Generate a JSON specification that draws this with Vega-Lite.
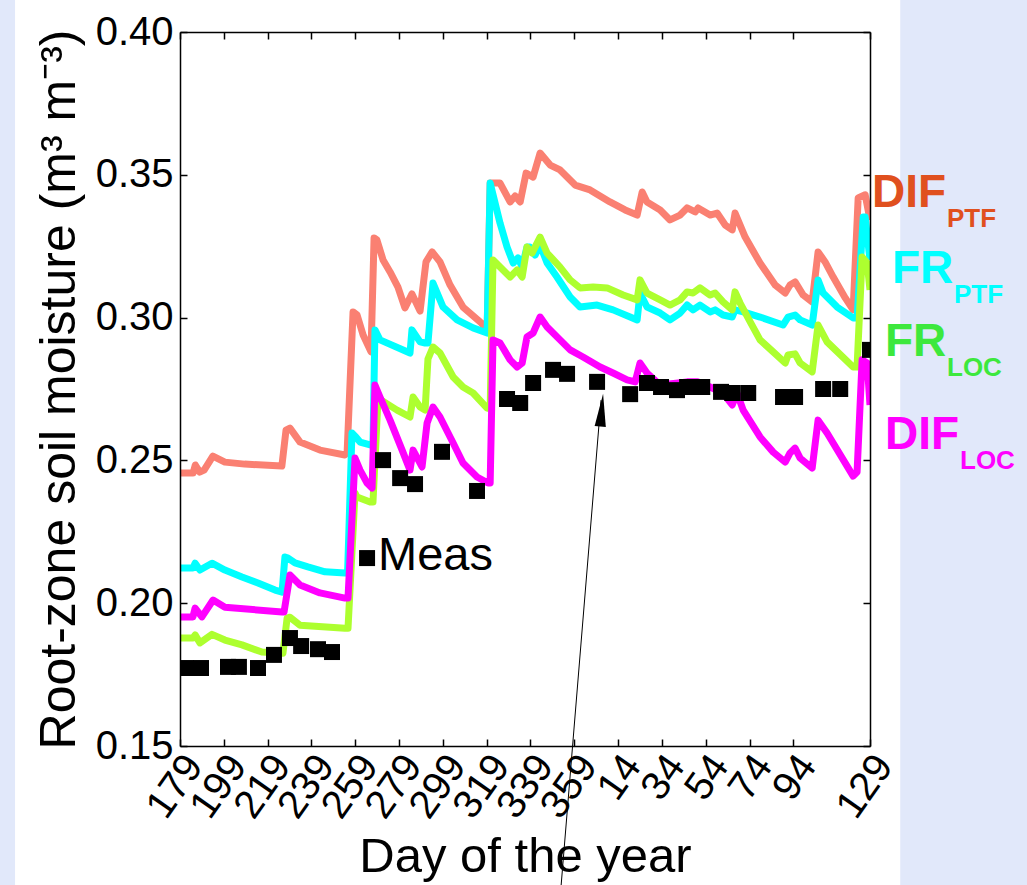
{
  "$schema": "https://vega.github.io/schema/vega-lite/v6.json",
  "width": 690,
  "height": 714,
  "autosize": {"type": "none"},
  "padding": {"left": 180, "top": 32, "right": 157, "bottom": 139},
  "background": "#E1E8FA",
  "config": {
    "view": {"stroke": null},
    "axis": {"grid": false, "domainColor": "black", "tickColor": "black", "labelColor": "black", "titleColor": "black", "labelFont": "Liberation Sans", "titleFont": "Liberation Sans", "titleFontWeight": "normal", "domainWidth": 1.5, "tickWidth": 1.5, "labelFlush": false, "labelOverlap": false}
  },
  "datasets": {
    "dp": [{"t":0,"v":0.2456},{"t":6,"v":0.2456},{"t":7,"v":0.2484},{"t":9,"v":0.2459},{"t":11,"v":0.2466},{"t":15,"v":0.2515},{"t":20.5,"v":0.2494},{"t":29.5,"v":0.2487},{"t":46.5,"v":0.248},{"t":48.4,"v":0.2606},{"t":50.2,"v":0.2613},{"t":54.8,"v":0.2564},{"t":63.9,"v":0.2536},{"t":75.3,"v":0.2519},{"t":76.3,"v":0.2529},{"t":79,"v":0.302},{"t":80.8,"v":0.301},{"t":83.6,"v":0.2939},{"t":87.2,"v":0.288},{"t":88.6,"v":0.3279},{"t":89.9,"v":0.3272},{"t":92.7,"v":0.3202},{"t":95.9,"v":0.316},{"t":99.5,"v":0.3107},{"t":102.7,"v":0.3034},{"t":105.9,"v":0.3083},{"t":109.6,"v":0.3023},{"t":112.3,"v":0.3195},{"t":115.1,"v":0.323},{"t":118.7,"v":0.3195},{"t":123.3,"v":0.3114},{"t":129.2,"v":0.3037},{"t":137,"v":0.2985},{"t":140.2,"v":0.296},{"t":141.6,"v":0.3471},{"t":146.1,"v":0.3471},{"t":150.7,"v":0.3405},{"t":153,"v":0.3426},{"t":155.3,"v":0.3405},{"t":158,"v":0.3506},{"t":161.2,"v":0.3492},{"t":164.4,"v":0.3576},{"t":169,"v":0.3534},{"t":173.5,"v":0.3517},{"t":180.4,"v":0.3464},{"t":187.2,"v":0.3447},{"t":196.3,"v":0.3405},{"t":203.2,"v":0.3377},{"t":208.7,"v":0.3359},{"t":211,"v":0.344},{"t":213.2,"v":0.3405},{"t":219.2,"v":0.3377},{"t":223.7,"v":0.3342},{"t":228.3,"v":0.3359},{"t":231.5,"v":0.3384},{"t":235.2,"v":0.337},{"t":236.5,"v":0.3384},{"t":242,"v":0.3359},{"t":245.2,"v":0.3366},{"t":248.9,"v":0.3324},{"t":252.1,"v":0.3307},{"t":253.4,"v":0.3366},{"t":255.7,"v":0.3324},{"t":258,"v":0.3282},{"t":264.8,"v":0.3191},{"t":271.7,"v":0.3114},{"t":276.3,"v":0.3086},{"t":278.5,"v":0.3114},{"t":280.8,"v":0.3125},{"t":284.5,"v":0.3079},{"t":288.6,"v":0.3055},{"t":291.3,"v":0.323},{"t":294.5,"v":0.3195},{"t":298.2,"v":0.3142},{"t":303.7,"v":0.3069},{"t":307.3,"v":0.3027},{"t":309.6,"v":0.3419},{"t":312.8,"v":0.343},{"t":315,"v":0.3342}],
    "fp": [{"t":0,"v":0.2123},{"t":5.9,"v":0.2123},{"t":6.9,"v":0.214},{"t":9.1,"v":0.2116},{"t":14.6,"v":0.214},{"t":20.5,"v":0.2116},{"t":28.3,"v":0.2092},{"t":35.6,"v":0.2071},{"t":43.4,"v":0.2046},{"t":46.6,"v":0.2039},{"t":47.9,"v":0.2162},{"t":49.3,"v":0.2158},{"t":52.5,"v":0.2141},{"t":58.4,"v":0.2127},{"t":66.2,"v":0.211},{"t":75.3,"v":0.2106},{"t":76.5,"v":0.2106},{"t":78.5,"v":0.2596},{"t":79.9,"v":0.2585},{"t":82.2,"v":0.2564},{"t":86.8,"v":0.2554},{"t":88.1,"v":0.2554},{"t":89,"v":0.2957},{"t":91.3,"v":0.2922},{"t":105,"v":0.2876},{"t":105.9,"v":0.2957},{"t":109.6,"v":0.2915},{"t":111.9,"v":0.2911},{"t":113.2,"v":0.2911},{"t":115.5,"v":0.3121},{"t":120.1,"v":0.3037},{"t":126.5,"v":0.2992},{"t":133.8,"v":0.2964},{"t":140.2,"v":0.2946},{"t":141.6,"v":0.3471},{"t":146.1,"v":0.3331},{"t":149.3,"v":0.3247},{"t":152.1,"v":0.3191},{"t":154.3,"v":0.3209},{"t":156.2,"v":0.3177},{"t":158.4,"v":0.3247},{"t":159.8,"v":0.3247},{"t":162.1,"v":0.3219},{"t":164.4,"v":0.3254},{"t":167.6,"v":0.3191},{"t":172.1,"v":0.3142},{"t":178.1,"v":0.3072},{"t":182.6,"v":0.3037},{"t":190.4,"v":0.3044},{"t":197.7,"v":0.3027},{"t":205.5,"v":0.3002},{"t":208.7,"v":0.2992},{"t":210,"v":0.3086},{"t":213.2,"v":0.3037},{"t":219.2,"v":0.3016},{"t":223.7,"v":0.2992},{"t":228.3,"v":0.3016},{"t":231.5,"v":0.3044},{"t":234.2,"v":0.3027},{"t":237.4,"v":0.3044},{"t":242,"v":0.302},{"t":244.3,"v":0.3027},{"t":247.9,"v":0.3009},{"t":252.1,"v":0.3002},{"t":253.4,"v":0.3027},{"t":257.1,"v":0.302},{"t":264.8,"v":0.3002},{"t":275.3,"v":0.2974},{"t":277.6,"v":0.3002},{"t":280.8,"v":0.3009},{"t":283.1,"v":0.2992},{"t":288.6,"v":0.2974},{"t":291.3,"v":0.3132},{"t":293.6,"v":0.3086},{"t":300,"v":0.3037},{"t":307.3,"v":0.2999},{"t":309.1,"v":0.2999},{"t":311.9,"v":0.3352},{"t":312.8,"v":0.3352},{"t":315,"v":0.3201}],
    "fl": [{"t":0,"v":0.1878},{"t":5.9,"v":0.1878},{"t":6.9,"v":0.1889},{"t":9.1,"v":0.1861},{"t":14.6,"v":0.1891},{"t":20.5,"v":0.1871},{"t":28.3,"v":0.1854},{"t":37.4,"v":0.1829},{"t":47,"v":0.1825},{"t":48.9,"v":0.1948},{"t":50.2,"v":0.1951},{"t":54.8,"v":0.1923},{"t":75.3,"v":0.1912},{"t":76.7,"v":0.1912},{"t":79.9,"v":0.2386},{"t":80.8,"v":0.2372},{"t":86.8,"v":0.2354},{"t":88.1,"v":0.2354},{"t":90.4,"v":0.2718},{"t":99.1,"v":0.2676},{"t":105,"v":0.2652},{"t":106.4,"v":0.2722},{"t":109.6,"v":0.2687},{"t":111.9,"v":0.2676},{"t":113.2,"v":0.2855},{"t":115.5,"v":0.2897},{"t":118.7,"v":0.2876},{"t":124.7,"v":0.2792},{"t":129.2,"v":0.2757},{"t":133.8,"v":0.2736},{"t":140.2,"v":0.2683},{"t":141.6,"v":0.2683},{"t":142.9,"v":0.3202},{"t":146.1,"v":0.3177},{"t":150.7,"v":0.3142},{"t":153.9,"v":0.3167},{"t":156.2,"v":0.3142},{"t":158.4,"v":0.3247},{"t":160.7,"v":0.3226},{"t":164.4,"v":0.3282},{"t":167.6,"v":0.3226},{"t":173.5,"v":0.3177},{"t":178.1,"v":0.3132},{"t":182.6,"v":0.3104},{"t":188.6,"v":0.3107},{"t":195,"v":0.3104},{"t":202.3,"v":0.3079},{"t":208.7,"v":0.3062},{"t":210,"v":0.3132},{"t":213.2,"v":0.3086},{"t":219.2,"v":0.3062},{"t":223.7,"v":0.3044},{"t":228.3,"v":0.3062},{"t":231.5,"v":0.309},{"t":234.2,"v":0.3086},{"t":237.4,"v":0.3104},{"t":242,"v":0.3079},{"t":244.3,"v":0.3086},{"t":247.9,"v":0.3055},{"t":252.1,"v":0.3027},{"t":253.4,"v":0.309},{"t":255.7,"v":0.3051},{"t":260.3,"v":0.2985},{"t":264.8,"v":0.2922},{"t":270.8,"v":0.288},{"t":276.3,"v":0.2841},{"t":277.6,"v":0.2869},{"t":280.8,"v":0.2873},{"t":283.1,"v":0.2841},{"t":288.6,"v":0.281},{"t":291.3,"v":0.2974},{"t":295.4,"v":0.2915},{"t":307.3,"v":0.2827},{"t":309.1,"v":0.2827},{"t":311.4,"v":0.3212},{"t":313.7,"v":0.3191},{"t":315,"v":0.3097}],
    "dl": [{"t":0,"v":0.1952},{"t":5.9,"v":0.1952},{"t":6.9,"v":0.1983},{"t":10,"v":0.1952},{"t":15.1,"v":0.2011},{"t":20.5,"v":0.1986},{"t":46.6,"v":0.1969},{"t":47.5,"v":0.1969},{"t":50.2,"v":0.2099},{"t":54.8,"v":0.2064},{"t":63.9,"v":0.2036},{"t":75.3,"v":0.2018},{"t":76.7,"v":0.2018},{"t":79.9,"v":0.2508},{"t":82.2,"v":0.2466},{"t":85.4,"v":0.2421},{"t":87.7,"v":0.2403},{"t":89,"v":0.2764},{"t":91.3,"v":0.2722},{"t":95.9,"v":0.2641},{"t":101.4,"v":0.2536},{"t":105,"v":0.2466},{"t":106.4,"v":0.2536},{"t":110.5,"v":0.2477},{"t":112.8,"v":0.2631},{"t":115.5,"v":0.2687},{"t":118.7,"v":0.2652},{"t":124.7,"v":0.2561},{"t":129.2,"v":0.2491},{"t":135.6,"v":0.2442},{"t":140.6,"v":0.2421},{"t":141.6,"v":0.2421},{"t":142.9,"v":0.2922},{"t":146.1,"v":0.2911},{"t":150.7,"v":0.2852},{"t":153.9,"v":0.2827},{"t":156.2,"v":0.2841},{"t":158.4,"v":0.2932},{"t":161.2,"v":0.2946},{"t":164.4,"v":0.3002},{"t":167.6,"v":0.2967},{"t":173.5,"v":0.2922},{"t":178.1,"v":0.2887},{"t":184,"v":0.2862},{"t":191.8,"v":0.2827},{"t":197.7,"v":0.2806},{"t":204.1,"v":0.2782},{"t":207.8,"v":0.2775},{"t":210,"v":0.2841},{"t":213.2,"v":0.2806},{"t":219.2,"v":0.2764},{"t":231.5,"v":0.2775},{"t":236.5,"v":0.2775},{"t":242,"v":0.2757},{"t":247.9,"v":0.2736},{"t":252.1,"v":0.2694},{"t":254.3,"v":0.2736},{"t":257.1,"v":0.2676},{"t":264.8,"v":0.2582},{"t":270.8,"v":0.2529},{"t":276.3,"v":0.2494},{"t":278.5,"v":0.2526},{"t":280.8,"v":0.2543},{"t":283.1,"v":0.2508},{"t":288.6,"v":0.2473},{"t":291.3,"v":0.2641},{"t":295.4,"v":0.2596},{"t":307.3,"v":0.2445},{"t":309.1,"v":0.2459},{"t":311.4,"v":0.2852},{"t":313.7,"v":0.2841},{"t":315,"v":0.2694}],
    "meas": [{"t":2.7,"v":0.1773},{"t":9.6,"v":0.1773},{"t":21.9,"v":0.1777},{"t":26.9,"v":0.1777},{"t":35.6,"v":0.1773},{"t":42.9,"v":0.1819},{"t":50.2,"v":0.1878},{"t":55.3,"v":0.185},{"t":63,"v":0.1839},{"t":69.4,"v":0.1829},{"t":92.7,"v":0.2501},{"t":100.5,"v":0.2438},{"t":107.3,"v":0.2417},{"t":119.6,"v":0.253},{"t":135.6,"v":0.2393},{"t":149.3,"v":0.2715},{"t":155.3,"v":0.2701},{"t":161.2,"v":0.2771},{"t":170.3,"v":0.2817},{"t":176.7,"v":0.2803},{"t":190.4,"v":0.2775},{"t":205.5,"v":0.2732},{"t":213.2,"v":0.2771},{"t":219.6,"v":0.2757},{"t":226.9,"v":0.2746},{"t":231.5,"v":0.2757},{"t":238.4,"v":0.2757},{"t":247,"v":0.274},{"t":252.1,"v":0.2736},{"t":259.4,"v":0.2736},{"t":275.3,"v":0.2722},{"t":280.8,"v":0.2722},{"t":293.6,"v":0.275},{"t":301.4,"v":0.275},{"t":315,"v":0.2887}]
  },
  "layer": [
    {
      "data": {"values": [{"x1": -75.3, "x2": 328.8, "y1": 0.4112, "y2": 0.1013}]},
      "mark": {"type": "rect", "fill": "white", "clip": false},
      "encoding": {
        "x": {"field": "x1", "type": "quantitative", "scale": {"domain": [0, 315], "nice": false, "zero": false},
          "axis": {"zindex": 1, "orient": "bottom", "values": [0,20,40,60,80,100,120,140,160,180,200,220,240,260,280,315],
            "labelExpr": "datum.value + 179 > 365 ? datum.value + 179 - 365 : datum.value + 179",
            "labelAngle": -55, "labelAlign": "right", "labelBaseline": "middle", "labelFontSize": 40, "labelPadding": 20, "labelOffset": 14,
            "tickSize": -7, "title": "Day of the year", "titleFontSize": 49, "titlePadding": 7}},
        "x2": {"field": "x2"},
        "y": {"field": "y1", "type": "quantitative", "scale": {"domain": [0.15, 0.40], "nice": false, "zero": false},
          "axis": {"zindex": 1, "orient": "left", "values": [0.15,0.2,0.25,0.3,0.35,0.4], "format": ".2f", "labelFontSize": 40, "labelPadding": 14,
            "tickSize": -7, "title": "Root-zone soil moisture (m³ m⁻³)", "titleFontSize": 50, "titlePadding": 11}},
        "y2": {"field": "y2"}
      }
    },
    {
      "data": {"name": "dp"},
      "mark": {"type": "line", "color": "#FA8072", "strokeWidth": 7, "strokeJoin": "round", "clip": true},
      "encoding": {
        "x": {"field": "t", "type": "quantitative", "scale": {"domain": [0, 315]}, "axis": null},
        "y": {"field": "v", "type": "quantitative", "scale": {"domain": [0.15, 0.40]}, "axis": null}
      }
    },
    {
      "data": {"name": "fp"},
      "mark": {"type": "line", "color": "#00FFFF", "strokeWidth": 7, "strokeJoin": "round", "clip": true},
      "encoding": {
        "x": {"field": "t", "type": "quantitative", "scale": {"domain": [0, 315]}, "axis": null},
        "y": {"field": "v", "type": "quantitative", "scale": {"domain": [0.15, 0.40]}, "axis": null}
      }
    },
    {
      "data": {"name": "fl"},
      "mark": {"type": "line", "color": "#ADFF2F", "strokeWidth": 7, "strokeJoin": "round", "clip": true},
      "encoding": {
        "x": {"field": "t", "type": "quantitative", "scale": {"domain": [0, 315]}, "axis": null},
        "y": {"field": "v", "type": "quantitative", "scale": {"domain": [0.15, 0.40]}, "axis": null}
      }
    },
    {
      "data": {"name": "dl"},
      "mark": {"type": "line", "color": "#FF00FF", "strokeWidth": 7, "strokeJoin": "round", "clip": true},
      "encoding": {
        "x": {"field": "t", "type": "quantitative", "scale": {"domain": [0, 315]}, "axis": null},
        "y": {"field": "v", "type": "quantitative", "scale": {"domain": [0.15, 0.40]}, "axis": null}
      }
    },
    {
      "data": {"name": "meas"},
      "mark": {"type": "point", "shape": "square", "filled": true, "color": "black", "opacity": 1, "size": 256, "strokeWidth": 0, "clip": true},
      "encoding": {
        "x": {"field": "t", "type": "quantitative", "scale": {"domain": [0, 315]},
          "axis": {"zindex": 1, "orient": "top", "values": [0,20,40,60,80,100,120,140,160,180,200,220,240,260,280,315], "labels": false, "tickSize": -7, "title": null}},
        "y": {"field": "v", "type": "quantitative", "scale": {"domain": [0.15, 0.40]},
          "axis": {"zindex": 1, "orient": "right", "values": [0.15,0.2,0.25,0.3,0.35,0.4], "labels": false, "tickSize": -7, "title": null}}
      }
    },
    {
      "data": {"values": [{"t1": 174, "v1": 0.1013, "t2": 192.2, "v2": 0.2711}]},
      "mark": {"type": "rule", "color": "black", "strokeWidth": 1, "clip": false},
      "encoding": {
        "x": {"field": "t1", "type": "quantitative", "scale": {"domain": [0, 315]}, "axis": null},
        "y": {"field": "v1", "type": "quantitative", "scale": {"domain": [0.15, 0.40]}, "axis": null},
        "x2": {"field": "t2"},
        "y2": {"field": "v2"}
      }
    },
    {
      "data": {"values": [{"t": 192.5, "v": 0.2676}]},
      "mark": {"type": "point", "shape": "M0,-1L0.34,1L-0.34,1Z", "filled": true, "color": "black", "opacity": 1, "size": 1089, "angle": 5, "strokeWidth": 0, "clip": false},
      "encoding": {
        "x": {"field": "t", "type": "quantitative", "scale": {"domain": [0, 315]}, "axis": null},
        "y": {"field": "v", "type": "quantitative", "scale": {"domain": [0.15, 0.40]}, "axis": null}
      }
    },
    {
      "data": {"values": [{"t": 85.4, "v": 0.2158, "label": "Meas"}]},
      "layer": [
        {"mark": {"type": "point", "shape": "square", "filled": true, "color": "black", "opacity": 1, "size": 256, "strokeWidth": 0}},
        {"mark": {"type": "text", "font": "Liberation Sans", "fontSize": 47, "align": "left", "baseline": "alphabetic", "dx": 11, "dy": 12, "color": "black"},
         "encoding": {"text": {"field": "label"}}}
      ],
      "encoding": {
        "x": {"field": "t", "type": "quantitative", "scale": {"domain": [0, 315]}, "axis": null},
        "y": {"field": "v", "type": "quantitative", "scale": {"domain": [0.15, 0.40]}, "axis": null}
      }
    },
    {
      "data": {"values": [{"t": 315, "v": 0.3387, "main": "DIF", "sub": "PTF"}]},
      "encoding": {
        "x": {"field": "t", "type": "quantitative", "scale": {"domain": [0, 315]}, "axis": null},
        "y": {"field": "v", "type": "quantitative", "scale": {"domain": [0.15, 0.40]}, "axis": null}
      },
      "layer": [
        {"mark": {"type": "text", "font": "Liberation Sans", "fontWeight": "bold", "fontSize": 46, "align": "left", "baseline": "alphabetic", "dx": 2, "color": "#E0501E"}, "encoding": {"text": {"field": "main"}}},
        {"mark": {"type": "text", "font": "Liberation Sans", "fontWeight": "bold", "fontSize": 26, "align": "left", "baseline": "alphabetic", "dx": 77, "dy": 20, "color": "#E0501E"}, "encoding": {"text": {"field": "sub"}}}
      ]
    },
    {
      "data": {"values": [{"t": 315, "v": 0.3121, "main": "FR", "sub": "PTF"}]},
      "encoding": {
        "x": {"field": "t", "type": "quantitative", "scale": {"domain": [0, 315]}, "axis": null},
        "y": {"field": "v", "type": "quantitative", "scale": {"domain": [0.15, 0.40]}, "axis": null}
      },
      "layer": [
        {"mark": {"type": "text", "font": "Liberation Sans", "fontWeight": "bold", "fontSize": 46, "align": "left", "baseline": "alphabetic", "dx": 22, "color": "#00FFFF"}, "encoding": {"text": {"field": "main"}}},
        {"mark": {"type": "text", "font": "Liberation Sans", "fontWeight": "bold", "fontSize": 26, "align": "left", "baseline": "alphabetic", "dx": 84, "dy": 20, "color": "#00FFFF"}, "encoding": {"text": {"field": "sub"}}}
      ]
    },
    {
      "data": {"values": [{"t": 315, "v": 0.2866, "main": "FR", "sub": "LOC"}]},
      "encoding": {
        "x": {"field": "t", "type": "quantitative", "scale": {"domain": [0, 315]}, "axis": null},
        "y": {"field": "v", "type": "quantitative", "scale": {"domain": [0.15, 0.40]}, "axis": null}
      },
      "layer": [
        {"mark": {"type": "text", "font": "Liberation Sans", "fontWeight": "bold", "fontSize": 46, "align": "left", "baseline": "alphabetic", "dx": 15, "color": "#3DE83D"}, "encoding": {"text": {"field": "main"}}},
        {"mark": {"type": "text", "font": "Liberation Sans", "fontWeight": "bold", "fontSize": 26, "align": "left", "baseline": "alphabetic", "dx": 77, "dy": 20, "color": "#3DE83D"}, "encoding": {"text": {"field": "sub"}}}
      ]
    },
    {
      "data": {"values": [{"t": 315, "v": 0.254, "main": "DIF", "sub": "LOC"}]},
      "encoding": {
        "x": {"field": "t", "type": "quantitative", "scale": {"domain": [0, 315]}, "axis": null},
        "y": {"field": "v", "type": "quantitative", "scale": {"domain": [0.15, 0.40]}, "axis": null}
      },
      "layer": [
        {"mark": {"type": "text", "font": "Liberation Sans", "fontWeight": "bold", "fontSize": 46, "align": "left", "baseline": "alphabetic", "dx": 15, "color": "#FF00FF"}, "encoding": {"text": {"field": "main"}}},
        {"mark": {"type": "text", "font": "Liberation Sans", "fontWeight": "bold", "fontSize": 26, "align": "left", "baseline": "alphabetic", "dx": 90, "dy": 20, "color": "#FF00FF"}, "encoding": {"text": {"field": "sub"}}}
      ]
    }
  ],
  "resolve": {"axis": {"x": "independent", "y": "independent"}}
}
